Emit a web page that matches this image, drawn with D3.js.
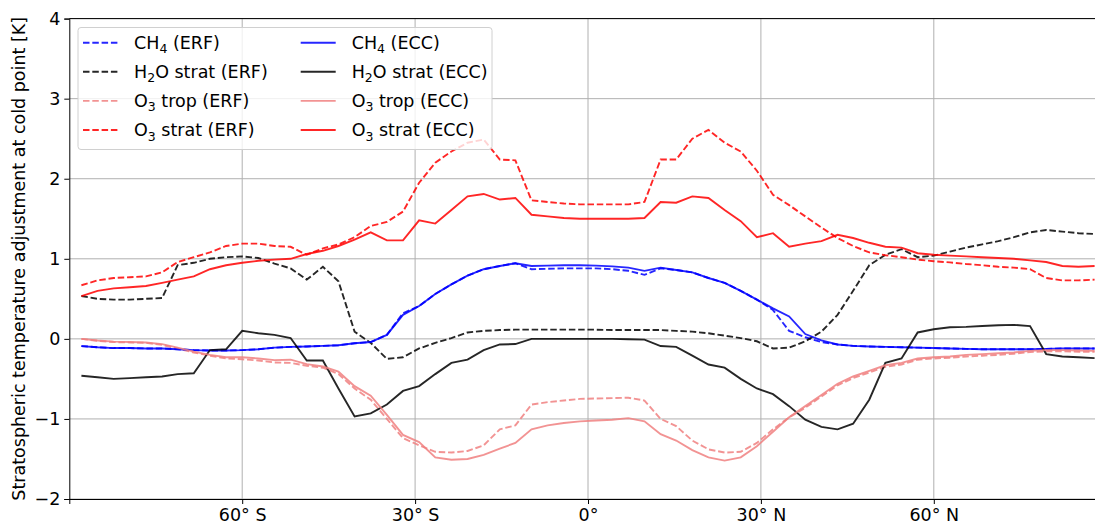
<!DOCTYPE html>
<html>
<head>
<meta charset="utf-8">
<script src="https://cdn.jsdelivr.net/npm/d3@7"></script>
<style>
  body { margin: 0; background: #fff; }
  text { font-family: "DejaVu Sans", sans-serif; }
</style>
</head>
<body>
<svg id="chart" width="1095" height="527"></svg>
<script>
// latitudes of the model grid (deg)
let lats = [-87.9, -85.1, -82.3, -79.5, -76.7, -73.9, -71.2, -68.4, -65.6, -62.8,
    -60.0, -57.2, -54.4, -51.6, -48.8, -46.0, -43.3, -40.5, -37.7, -34.9,
    -32.1, -29.3, -26.5, -23.7, -20.9, -18.1, -15.3, -12.6, -9.8, -7.0,
    -4.2, -1.4, 1.4, 4.2, 7.0, 9.8, 12.6, 15.3, 18.1, 20.9,
    23.7, 26.5, 29.3, 32.1, 34.9, 37.7, 40.5, 43.3, 46.0, 48.8,
    51.6, 54.4, 57.2, 60.0, 62.8, 65.6, 68.4, 71.2, 73.9, 76.7,
    79.5, 82.3, 85.1, 87.9];

let ch4Erf = [-0.09, -0.105, -0.115, -0.115, -0.12, -0.12, -0.13, -0.14, -0.145, -0.145,
    -0.14, -0.13, -0.11, -0.10, -0.095, -0.087, -0.08, -0.055, -0.04, 0.05,
    0.32, 0.41, 0.56, 0.68, 0.79, 0.87, 0.91, 0.945, 0.87, 0.875,
    0.88, 0.88, 0.88, 0.87, 0.85, 0.80, 0.88, 0.86, 0.83, 0.76,
    0.70, 0.60, 0.49, 0.36, 0.10, 0.02, -0.04, -0.07, -0.087, -0.095,
    -0.10, -0.105, -0.11, -0.115, -0.12, -0.125, -0.13, -0.13, -0.13, -0.13,
    -0.125, -0.12, -0.12, -0.12];

let h2oErf = [0.535, 0.50, 0.49, 0.49, 0.50, 0.51, 0.92, 0.95, 1.00, 1.02,
    1.03, 1.01, 0.94, 0.88, 0.74, 0.90, 0.72, 0.09, -0.05, -0.25,
    -0.23, -0.12, -0.05, 0.01, 0.08, 0.10, 0.11, 0.115, 0.115, 0.115,
    0.115, 0.115, 0.115, 0.11, 0.11, 0.11, 0.11, 0.10, 0.09, 0.07,
    0.04, 0.01, -0.03, -0.12, -0.11, -0.03, 0.09, 0.30, 0.60, 0.92,
    1.05, 1.12, 1.02, 1.04, 1.09, 1.14, 1.18, 1.22, 1.27, 1.33,
    1.36, 1.34, 1.32, 1.31];

let o3TropErf = [0.0, -0.025, -0.04, -0.045, -0.05, -0.075, -0.12, -0.17, -0.21, -0.245,
    -0.255, -0.27, -0.295, -0.30, -0.335, -0.36, -0.44, -0.62, -0.76, -1.0,
    -1.24, -1.33, -1.41, -1.42, -1.40, -1.33, -1.13, -1.08, -0.82, -0.79,
    -0.77, -0.75, -0.745, -0.74, -0.735, -0.77, -1.0, -1.09, -1.27, -1.38,
    -1.42, -1.41, -1.30, -1.13, -0.98, -0.86, -0.72, -0.58, -0.49, -0.42,
    -0.35, -0.32, -0.26, -0.245, -0.235, -0.22, -0.21, -0.20, -0.185, -0.165,
    -0.155, -0.155, -0.16, -0.16];

let o3StratErf = [0.67, 0.73, 0.76, 0.77, 0.78, 0.83, 0.96, 1.02, 1.08, 1.16,
    1.19, 1.19, 1.16, 1.15, 1.05, 1.13, 1.18, 1.27, 1.41, 1.46,
    1.59, 1.95, 2.20, 2.34, 2.45, 2.49, 2.24, 2.23, 1.73, 1.71,
    1.69, 1.68, 1.68, 1.68, 1.68, 1.71, 2.24, 2.24, 2.50, 2.61,
    2.45, 2.34, 2.10, 1.80, 1.67, 1.53, 1.39, 1.26, 1.16, 1.08,
    1.045, 1.02, 0.99, 0.97, 0.955, 0.935, 0.92, 0.90, 0.89, 0.87,
    0.76, 0.73, 0.73, 0.74];

let ch4Ecc = [-0.09, -0.105, -0.115, -0.115, -0.12, -0.12, -0.13, -0.14, -0.145, -0.145,
    -0.14, -0.13, -0.11, -0.10, -0.095, -0.087, -0.08, -0.055, -0.04, 0.05,
    0.30, 0.41, 0.56, 0.68, 0.79, 0.87, 0.91, 0.945, 0.91, 0.915,
    0.92, 0.92, 0.915, 0.905, 0.89, 0.85, 0.89, 0.86, 0.83, 0.76,
    0.70, 0.60, 0.49, 0.38, 0.28, 0.06, -0.02, -0.07, -0.087, -0.095,
    -0.10, -0.105, -0.11, -0.115, -0.12, -0.125, -0.13, -0.13, -0.13, -0.13,
    -0.125, -0.12, -0.12, -0.12];

let h2oEcc = [-0.46, -0.48, -0.50, -0.49, -0.48, -0.47, -0.44, -0.43, -0.14, -0.13,
    0.10, 0.07, 0.05, 0.01, -0.27, -0.27, -0.62, -0.97, -0.93, -0.82,
    -0.65, -0.59, -0.44, -0.30, -0.26, -0.14, -0.07, -0.065, 0.0, 0.0,
    0.0, 0.0, 0.0, 0.0, -0.005, -0.01, -0.09, -0.10, -0.21, -0.32,
    -0.36, -0.50, -0.62, -0.69, -0.84, -1.01, -1.10, -1.13, -1.06, -0.76,
    -0.30, -0.245, 0.08, 0.12, 0.145, 0.15, 0.16, 0.17, 0.175, 0.16,
    -0.19, -0.22, -0.23, -0.24];

let o3TropEcc = [0.0, -0.02, -0.035, -0.04, -0.045, -0.065, -0.11, -0.16, -0.20, -0.23,
    -0.23, -0.245, -0.265, -0.26, -0.315, -0.345, -0.41, -0.59, -0.71, -0.95,
    -1.20, -1.29, -1.48, -1.51, -1.50, -1.45, -1.37, -1.30, -1.13, -1.08,
    -1.05, -1.03, -1.02, -1.01, -0.99, -1.03, -1.19, -1.27, -1.39, -1.48,
    -1.52, -1.48, -1.34, -1.16, -0.98, -0.84, -0.70, -0.56, -0.47, -0.40,
    -0.33, -0.30, -0.245, -0.23, -0.22, -0.20, -0.19, -0.18, -0.17, -0.15,
    -0.14, -0.14, -0.145, -0.15];

let o3StratEcc = [0.535, 0.60, 0.63, 0.645, 0.66, 0.70, 0.74, 0.78, 0.87, 0.92,
    0.95, 0.975, 0.99, 1.00, 1.06, 1.10, 1.16, 1.24, 1.33, 1.23,
    1.23, 1.48, 1.44, 1.61, 1.78, 1.81, 1.74, 1.76, 1.55, 1.53,
    1.51, 1.50, 1.50, 1.50, 1.50, 1.51, 1.71, 1.70, 1.78, 1.76,
    1.61, 1.47, 1.27, 1.32, 1.15, 1.19, 1.22, 1.30, 1.26, 1.20,
    1.15, 1.14, 1.07, 1.05, 1.04, 1.03, 1.02, 1.01, 1.00, 0.98,
    0.96, 0.91, 0.90, 0.91];

let yTicks = [-2, -1, 0, 1, 2, 3, 4];
let xTicks = [-60, -30, 0, 30, 60];
let xTickLabels = ["60° S", "30° S", "0°", "30° N", "60° N"];

// series in legend order (column by column)
let series = [
    {name: ["CH", "4", " (ERF)"], values: ch4Erf, color: "#0000ff", dash: true},
    {name: ["H", "2", "O strat (ERF)"], values: h2oErf, color: "#000000", dash: true},
    {name: ["O", "3", " trop (ERF)"], values: o3TropErf, color: "#f08080", dash: true},
    {name: ["O", "3", " strat (ERF)"], values: o3StratErf, color: "#ff0000", dash: true},
    {name: ["CH", "4", " (ECC)"], values: ch4Ecc, color: "#0000ff", dash: false},
    {name: ["H", "2", "O strat (ECC)"], values: h2oEcc, color: "#000000", dash: false},
    {name: ["O", "3", " trop (ECC)"], values: o3TropEcc, color: "#f08080", dash: false},
    {name: ["O", "3", " strat (ECC)"], values: o3StratEcc, color: "#ff0000", dash: false}
];

let margin = {top: 18.6, left: 69.3},
    plotW = 1037.4,
    plotH = 480.4;
let fontSize = "17.5px";

let svg = d3.select("#chart");
let g = svg.append("g")
    .attr("transform", "translate(" + margin.left + "," + margin.top + ")");

let x = d3.scaleLinear().domain([-90, 90]).range([0, plotW]);
let y = d3.scaleLinear().domain([-2, 4]).range([plotH, 0]);

// grid
g.selectAll(".hgrid").data(yTicks).enter().append("line")
    .attr("x1", 0).attr("x2", plotW)
    .attr("y1", d => y(d)).attr("y2", d => y(d))
    .attr("stroke", "#b0b0b0").attr("stroke-width", 1);
g.selectAll(".vgrid").data(xTicks).enter().append("line")
    .attr("y1", 0).attr("y2", plotH)
    .attr("x1", d => x(d)).attr("x2", d => x(d))
    .attr("stroke", "#b0b0b0").attr("stroke-width", 1);

// lines
let line = d3.line()
    .x((d, i) => x(lats[i]))
    .y(d => y(d));

series.forEach(function (s) {
    g.append("path")
        .datum(s.values)
        .attr("d", line)
        .attr("fill", "none")
        .attr("stroke", s.color)
        .attr("stroke-opacity", 0.85)
        .attr("stroke-width", 1.9)
        .attr("stroke-dasharray", s.dash ? "6.5,2.8" : null);
});

// axes
let xAxis = g.append("g")
    .attr("transform", "translate(0," + plotH + ")")
    .call(d3.axisBottom(x).tickValues(xTicks)
        .tickFormat((d, i) => xTickLabels[i]).tickSize(5).tickPadding(5));
let yAxis = g.append("g")
    .call(d3.axisLeft(y).tickValues(yTicks)
        .tickFormat(d => d < 0 ? "\u2212" + Math.abs(d) : d).tickSize(5).tickPadding(4));
[xAxis, yAxis].forEach(function (a) {
    a.selectAll("text").style("font-size", fontSize).style("font-family", "DejaVu Sans").attr("fill", "#000");
    a.selectAll("line").attr("stroke", "#000");
    a.select(".domain").attr("stroke", "#000").attr("stroke-width", 1);
});

g.append("line")
    .attr("x1", 0).attr("x2", plotW)
    .attr("y1", 0).attr("y2", 0)
    .attr("stroke", "#000").attr("stroke-width", 1);

svg.append("text")
    .attr("transform", "translate(25," + (margin.top + plotH / 2) + ") rotate(-90)")
    .attr("text-anchor", "middle")
    .style("font-size", fontSize)
    .text("Stratospheric temperature adjustment at cold point [K]");

// legend
let legend = svg.append("g");
legend.append("rect")
    .attr("x", 78).attr("y", 27.5)
    .attr("width", 414).attr("height", 122)
    .attr("rx", 3)
    .attr("fill", "#fff").attr("fill-opacity", 0.8)
    .attr("stroke", "#d0d0d0");

series.forEach(function (s, i) {
    let col = Math.floor(i / 4), row = i % 4;
    let lx = col === 0 ? 83 : 300.7;
    let ly = 42.7 + row * 29.1;
    legend.append("line")
        .attr("x1", lx).attr("x2", lx + 35)
        .attr("y1", ly).attr("y2", ly)
        .attr("stroke", s.color)
        .attr("stroke-opacity", 0.85)
        .attr("stroke-width", 1.9)
        .attr("stroke-dasharray", s.dash ? "6.5,2.8" : null);
    let t = legend.append("text")
        .attr("x", lx + 51).attr("y", ly + 6)
        .style("font-size", fontSize);
    t.append("tspan").text(s.name[0]);
    t.append("tspan").attr("dy", 4.5).style("font-size", "12.5px").text(s.name[1]);
    t.append("tspan").attr("dy", -4.5).text(s.name[2]);
});
</script>
</body>
</html>
